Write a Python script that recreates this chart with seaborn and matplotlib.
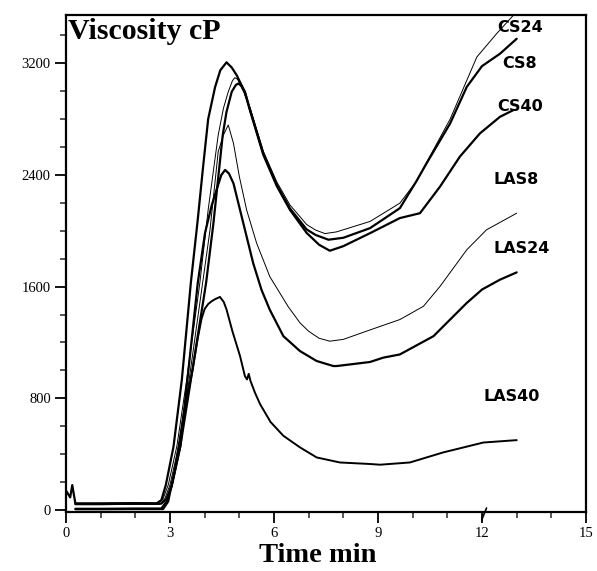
import matplotlib
matplotlib.use("Agg")
import matplotlib.pyplot as plt
import matplotlib.transforms as mtransforms
from matplotlib.ticker import MultipleLocator
import seaborn as sns
import pandas as pd

# viscosity traces (time in min, viscosity in cP)
cs8_time = [0.0, 0.12, 0.18, 0.27, 1.0, 2.0, 2.6, 2.75, 2.88, 3.1, 3.34, 3.6, 3.8, 3.95,
            4.1, 4.3, 4.45, 4.63, 4.78, 4.92, 5.05, 5.16, 5.31, 5.69, 6.08, 6.46, 6.94,
            7.2, 7.57, 8.0, 8.77, 9.63, 10.1, 10.4, 11.08, 11.56, 12.0, 12.52, 13.0]
cs8_visc = [138, 90, 178, 45, 45, 48, 45, 70, 180, 453, 931, 1626, 2080, 2450,
            2800, 3030, 3150, 3207, 3170, 3116, 3050, 2996, 2865, 2555, 2330, 2160, 2010,
            1970, 1936, 1950, 2019, 2162, 2352, 2483, 2769, 3031, 3180, 3269, 3376]

cs24_time = [0.27, 1.0, 2.0, 2.65, 2.8, 2.95, 3.2, 3.48, 3.86, 4.1, 4.3, 4.39, 4.54, 4.68,
             4.8, 4.87, 4.95, 5.1, 5.31, 5.69, 6.08, 6.46, 6.94, 7.2, 7.47, 7.8, 8.77,
             9.63, 10.1, 10.4, 11.08, 11.85, 12.42, 12.9]
cs24_visc = [50, 50, 52, 50, 80, 180, 460, 931, 1626, 2150, 2520, 2686, 2877, 2996,
             3075, 3097, 3085, 3010, 2880, 2570, 2350, 2185, 2045, 2005, 1980, 1992, 2067,
             2198, 2352, 2490, 2800, 3245, 3412, 3543]

cs40_time = [0.27, 1.0, 2.0, 2.75, 2.9, 3.05, 3.3, 3.6, 4.04, 4.25, 4.42, 4.52, 4.63, 4.78,
             4.9, 4.97, 5.05, 5.16, 5.31, 5.69, 6.08, 6.46, 6.94, 7.3, 7.61, 8.0, 8.77,
             9.63, 10.21, 10.79, 11.36, 11.94, 12.52, 12.9]
cs40_visc = [42, 42, 44, 45, 80, 180, 460, 931, 1626, 2050, 2450, 2686, 2853, 2996,
             3045, 3055, 3040, 2990, 2860, 2545, 2320, 2150, 1985, 1900, 1857, 1890, 1983,
             2091, 2126, 2317, 2531, 2698, 2817, 2864]

las8_time = [0.27, 1.0, 2.0, 2.7, 2.85, 3.0, 3.25, 3.55, 3.94, 4.15, 4.39, 4.54, 4.68,
             4.83, 5.0, 5.21, 5.5, 5.88, 6.41, 6.75, 7.0, 7.3, 7.61, 8.0, 8.67, 9.63,
             10.31, 10.79, 11.56, 12.13, 13.0]
las8_visc = [38, 38, 40, 40, 80, 180, 460, 931, 1626, 2000, 2567, 2686, 2758,
             2627, 2388, 2149, 1910, 1671, 1456, 1340, 1280, 1230, 1209, 1222, 1281, 1364,
             1459, 1602, 1864, 2007, 2126]

las24_time = [0.27, 1.0, 2.0, 2.75, 2.9, 3.05, 3.3, 3.5, 3.8, 4.01, 4.2, 4.35, 4.48, 4.59,
              4.7, 4.83, 5.02, 5.21, 5.4, 5.64, 5.88, 6.27, 6.75, 7.23, 7.71, 7.81, 8.77,
              9.15, 9.63, 10.6, 11.56, 12.0, 12.52, 13.0]
las24_visc = [8, 8, 10, 10, 60, 170, 460, 931, 1626, 1985, 2180, 2300, 2400, 2436,
              2410, 2340, 2149, 1958, 1767, 1576, 1433, 1245, 1138, 1067, 1031, 1031, 1060,
              1091, 1114, 1245, 1483, 1579, 1650, 1702]

las40_time = [0.27, 1.0, 2.0, 2.8, 2.95, 3.15, 3.4, 3.65, 3.8, 3.91, 4.0, 4.1, 4.2, 4.3,
              4.44, 4.55, 4.63, 4.8, 5.02, 5.16, 5.22, 5.27, 5.32, 5.45, 5.6, 5.9, 6.27,
              6.75, 7.23, 7.9, 8.77, 9.06, 9.92, 10.88, 12.04, 13.0]
las40_visc = [4, 4, 5, 5, 60, 300, 700, 1000, 1230, 1370, 1440, 1475, 1495, 1510,
              1526, 1490, 1436, 1280, 1102, 959, 935, 975, 925, 840, 757, 630, 531,
              448, 376, 340, 329, 324, 340, 412, 483, 500]

series_names = ["CS8", "CS24", "CS40", "LAS8", "LAS24", "LAS40"]
series_time = [cs8_time, cs24_time, cs40_time, las8_time, las24_time, las40_time]
series_visc = [cs8_visc, cs24_visc, cs40_visc, las8_visc, las24_visc, las40_visc]
series_width = [1.6, 0.7, 1.6, 0.7, 1.6, 1.4]

label_x = [12.58, 12.43, 12.43, 12.32, 12.32, 12.03]
label_y = [3200, 3456, 2889, 2364, 1875, 812]

frames = []
for name, t, v in zip(series_names, series_time, series_visc):
    frames.append(pd.DataFrame({"time": t, "visc": v, "series": name}))
df = pd.concat(frames, ignore_index=True)

sns.set_theme(style="ticks")
plt.rcParams["font.family"] = ["Liberation Serif", "DejaVu Serif"]
plt.rcParams["text.color"] = "black"
plt.rcParams["axes.labelcolor"] = "black"

fig = plt.figure(figsize=(5.97, 5.71), dpi=100)
ax = fig.add_axes([0.1106, 0.1033, 0.871, 0.8704])

for name, lw in zip(series_names, series_width):
    sns.lineplot(data=df[df["series"] == name], x="time", y="visc", sort=False,
                 estimator=None, color="black", linewidth=lw, ax=ax, legend=False)

for name, x, y in zip(series_names, label_x, label_y):
    ax.text(x, y, name, family="DejaVu Sans", fontweight="bold", fontsize=11.5,
            ha="left", va="center", color="black")

ax.set_xlim(0, 15)
ax.set_ylim(-15, 3546)
ax.xaxis.set_major_locator(MultipleLocator(3))
ax.xaxis.set_minor_locator(MultipleLocator(1))
ax.yaxis.set_major_locator(MultipleLocator(800))
ax.yaxis.set_minor_locator(MultipleLocator(200))
ax.tick_params(which="major", direction="out", length=8, width=1.3, labelsize=10.5,
               pad=3, colors="black")
ax.tick_params(which="minor", direction="out", length=4.5, width=1.1)
for sp in ax.spines.values():
    sp.set_visible(True)
    sp.set_linewidth(1.6)
    sp.set_color("black")

ax.set_xlabel("Time min", fontsize=20.5, fontweight="bold", color="black")
ax.xaxis.set_label_coords(0.484, -0.062)
ax.set_ylabel("")
ax.text(0.004, 0.993, "Viscosity cP", transform=ax.transAxes, fontsize=21.5,
        fontweight="bold", ha="left", va="top", color="black")

# axis break mark at 12 min
brk = mtransforms.blended_transform_factory(ax.transData, ax.transAxes)
ax.plot([11.99, 12.13], [-0.016, 0.008], color="black", linewidth=1.2,
        transform=brk, clip_on=False)

fig.savefig("out.png", dpi=100)
